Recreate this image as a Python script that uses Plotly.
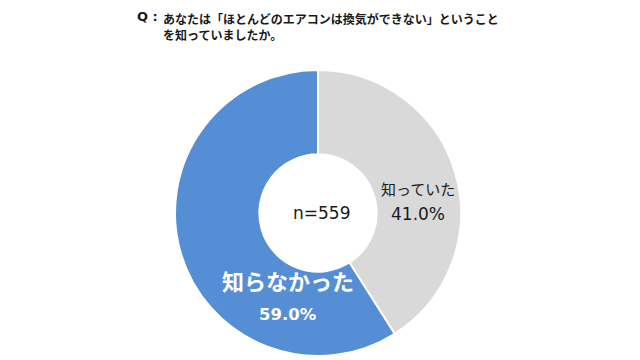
import plotly.graph_objects as go

categories = ["知っていた", "知らなかった"]
values = [41.0, 59.0]
colors = ["#D9D9D9", "#558ED5"]
n_total = 559

W, H, OFF = 632, 352, 8  # page body margin offsets the figure by 8px


def px(X, Y):
    return (X - OFF) / W, 1 - (Y - OFF) / H


fig = go.Figure()
x0, y1 = px(175, 70)
x1, y0 = px(461, 356)
fig.add_trace(go.Pie(
    labels=categories, values=values, hole=0.41, sort=False, direction="clockwise",
    rotation=0, marker=dict(colors=colors, line=dict(color="white", width=2)),
    textinfo="none", hoverinfo="label+percent", showlegend=False,
    domain=dict(x=[x0, x1], y=[y0, y1]),
))

jp = "Noto Sans CJK JP"
lat = "DejaVu Sans"


def ann(X, Y, text, size, color, family, **kw):
    ax, ay = px(X, Y)
    fig.add_annotation(x=ax, y=ay, xref="paper", yref="paper", text=text,
                       showarrow=False, font=dict(family=family, size=size, color=color), **kw)


ann(321, 213, f"n={n_total}", 17, "#1a1a1a", lat)
ann(418, 188, categories[0], 15, "#1a1a1a", jp)
ann(418, 214, f"{values[0]:.1f}%", 17, "#1a1a1a", lat)
ann(288, 298, f"<b>{categories[1]}</b>", 22, "white", jp)
ann(288, 326, f"<b>{values[1]:.1f}%</b>", 16.5, "white", lat)

ann(135, 17, "<b>Q :</b>", 13, "#1a1a1a", lat, xanchor="left", yanchor="middle")
ann(161, 26, "<b>あなたは「ほとんどのエアコンは換気ができない」ということ<br>を知っていましたか。</b>",
    12, "#1a1a1a", jp, xanchor="left", yanchor="middle", align="left")

fig.update_layout(width=W, height=H, margin=dict(l=0, r=0, t=0, b=0),
                  paper_bgcolor="white", plot_bgcolor="white")
fig.write_html("out.html")
